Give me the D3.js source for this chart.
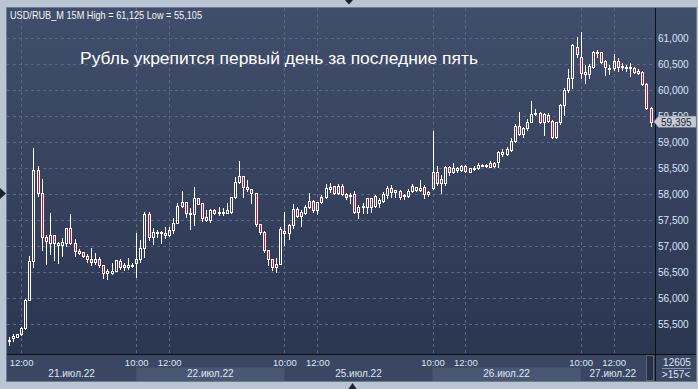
<!DOCTYPE html>
<html>
<head>
<meta charset="utf-8">
<script src="https://cdn.jsdelivr.net/npm/d3@7/dist/d3.min.js"></script>
<style>
html,body{margin:0;padding:0;background:#bac5d4;}
svg{display:block;}
text{font-family:"Liberation Sans",Arial,sans-serif;}
</style>
</head>
<body>
<svg id="chart" width="698" height="389"></svg>
<script>
// ---- data (USD/RUB_M, 15-minute candles) ----
const open = [55180,55230,55260,55305,55430,55965,56710,58465,58020,57175,
57070,57210,57030,57030,57055,57350,57055,56880,56885,56810,
56750,56700,56750,56645,56490,56495,56530,56725,56600,56610,
56640,56685,56750,56960,57620,57175,57250,57275,57250,57210,
57305,57455,57775,57845,57620,57620,57925,57835,57505,57510,
57700,57635,57650,57645,57665,57950,58235,58350,58135,58095,
58020,57430,57280,56930,56760,56595,56660,57295,57250,57410,
57710,57590,57645,57750,57875,57700,57845,57940,58110,58160,
58020,58160,58000,57965,58000,57665,57750,57760,57925,57775,
57830,57870,57985,58115,58050,58070,57965,57975,58065,58135,
58075,58135,58005,58115,58425,58210,58210,58530,58425,58475,
58470,58545,58435,58495,58510,58560,58540,58530,58605,58620,
58805,58770,58860,59030,59315,59155,59270,59395,59545,59560,
59385,59525,59410,59105,59385,59715,60005,60230,60840,60635,
60345,60305,60455,60720,60730,60560,60405,60425,60570,60440,
60440,60425,60425,60325,60360,60115,59655];
const high = [55260,55305,55310,55455,55985,56815,58890,58545,58290,57215,
57640,57215,57090,57160,57355,57620,57140,56955,56890,56850,
56965,56865,56800,56650,56570,56675,56745,56750,56675,56770,
56675,57250,57120,57665,57665,57345,57315,57285,57365,57365,
57540,57830,58070,57855,57730,58135,57930,57840,57700,57710,
57710,57760,57730,57840,57955,58340,58640,58355,58275,58100,
58030,57435,57285,56935,56765,56770,57365,57665,57430,57815,
57750,57700,57795,58030,57890,57855,57985,58190,58210,58165,
58190,58190,58030,58020,58055,57795,57840,57925,57930,57990,
57925,58050,58165,58180,58085,58085,58005,58100,58200,58145,
58275,58180,58065,59215,58550,58370,58535,58550,58595,58530,
58565,58565,58510,58540,58595,58575,58575,58640,58625,58830,
58870,58905,59075,59350,59590,59290,59440,59795,59635,59580,
59560,59560,59430,59395,59740,60040,60410,60890,61030,61125,
60485,60500,60755,60770,60745,60580,60485,60700,60615,60530,
60485,60520,60455,60405,60375,60135,59670];
const low = [55105,55185,55255,55295,55415,55960,56605,57965,56930,56660,
56850,56735,56685,56815,57005,57045,56815,56850,56800,56700,
56635,56660,56605,56385,56375,56465,56525,56555,56545,56555,
56595,56415,56705,56800,57120,57045,57175,57055,57155,57195,
57250,57440,57760,57570,57330,57410,57805,57490,57490,57475,
57630,57600,57600,57640,57640,57925,58210,57955,58070,57825,
57390,57235,56895,56640,56545,56500,56655,57025,57135,57345,
57555,57390,57620,57730,57665,57620,57825,57925,58050,58015,
58015,57980,57905,57825,57645,57540,57635,57635,57665,57765,
57765,57855,57925,57955,57955,57910,57910,57955,58040,58065,
58065,57925,57975,58095,58180,58020,58180,58370,58405,58420,
58450,58425,58420,58470,58485,58535,58530,58525,58530,58530,
58745,58750,58830,59010,59140,59105,59235,59385,59525,59365,
59140,59395,59090,59075,59345,59525,59975,60050,60645,60230,
60135,60240,60435,60645,60520,60295,60305,60390,60375,60390,
60375,60275,60325,60315,60100,59635,59310];
const close = [55200,55275,55305,55430,55965,56710,58465,58020,57175,57095,
57210,57055,57070,57080,57350,57055,56905,56915,56805,56750,
56705,56750,56645,56490,56530,56530,56735,56605,56640,56640,
56625,56750,56960,57620,57185,57270,57280,57265,57210,57315,
57455,57775,57845,57635,57645,57925,57815,57550,57555,57700,
57635,57660,57665,57700,57950,58240,58350,58135,58095,58030,
57430,57280,56930,56760,56595,56660,57330,57250,57410,57710,
57590,57655,57750,57875,57700,57850,57940,58115,58145,58020,
58160,58000,57940,57985,57665,57750,57775,57925,57760,57975,
57890,58000,58115,58040,58080,57955,57985,58070,58160,58075,
58115,58010,58040,58435,58210,58295,58530,58425,58510,58500,
58545,58450,58500,58510,58565,58550,58565,58595,58545,58805,
58770,58865,59030,59315,59155,59270,59395,59545,59565,59385,
59540,59415,59105,59385,59715,60005,60230,60870,60690,60325,
60305,60475,60740,60740,60550,60440,60435,60565,60440,60475,
60445,60455,60360,60375,60120,59655,59395];

const priceTicks = [55500,56000,56500,57000,57500,58000,58500,59000,59500,60000,60500,61000];
const timeLabels = ["12:00","10:00","12:00","10:00","12:00","10:00","12:00","10:00","12:00"];
const timeIndex  = [3,31,39,67,75,103,111,139,147];
const dayLabels  = ["21.июл.22","22.июл.22","25.июл.22","26.июл.22","27.июл.22"];
const dayStart   = [0,31,67,103,139];
const headerText = "USD/RUB_M 15M High = 61,125 Low = 55,105";
const titleText  = "Рубль укрепится первый день за последние пять";
const barsTotal  = "12605";
const barsShown  = ">157<";

// ---- layout ----
const svg = d3.select("#chart");
const P = {l:7, r:656, t:8, b:354, right:696, bottom:381};

const x = d3.scaleLinear().domain([0, open.length-1]).range([8.7, 650.6]);
const y = d3.scaleLinear().domain([55500, 61000]).range([324.3, 38.3]);
const fmt = d3.format(",");
const lastPrice = close[close.length-1];
const lastY = y(lastPrice);

const defs = svg.append("defs");
const g1 = defs.append("linearGradient").attr("id","bg").attr("x1",0).attr("y1",0).attr("x2",0).attr("y2",1);
g1.append("stop").attr("offset","0%").attr("stop-color","#414e6b");
g1.append("stop").attr("offset","100%").attr("stop-color","#2b3651");
// clip so that a tick label hidden behind the last-price tag only shows above it
defs.append("clipPath").attr("id","aboveTag").append("rect")
  .attr("x",P.r).attr("y",0).attr("width",50).attr("height",lastY-5.5);

// outer
svg.append("rect").attr("width",698).attr("height",389).attr("fill","#bac5d4");
// panel
svg.append("rect").attr("x",P.l).attr("y",P.t).attr("width",P.right-P.l).attr("height",P.b-P.t).attr("fill","url(#bg)");
// bottom axis band
svg.append("rect").attr("x",P.l).attr("y",P.b).attr("width",P.right-P.l).attr("height",P.bottom-P.b).attr("fill","#3b4762");

// day bands
const bandEnd = dayStart.slice(1).map(i => x(i)).concat([645]);
dayLabels.forEach((d,i) => {
  const x0 = i === 0 ? P.l : x(dayStart[i]);
  const x1 = bandEnd[i];
  if (i % 2 === 1) {
    svg.append("rect").attr("x",x0).attr("y",367.5).attr("width",x1-x0).attr("height",P.bottom-367.5).attr("fill","#4a5773");
  }
  svg.append("text").attr("x",(x0+x1)/2).attr("y",377).attr("text-anchor","middle")
    .attr("font-size","10px").attr("fill","#dde6f4").text(d);
});

// grid
const grid = svg.append("g").attr("stroke","#5a6886").attr("stroke-width",1).attr("stroke-dasharray","3,3");
priceTicks.forEach(v => {
  const yy = Math.round(y(v)) + 0.5;
  grid.append("line").attr("x1",P.l).attr("x2",P.r).attr("y1",yy).attr("y2",yy);
});
timeIndex.forEach(i => {
  const xx = Math.round(x(i)) + 0.5;
  grid.append("line").attr("x1",xx).attr("x2",xx).attr("y1",P.t).attr("y2",P.b);
});

// time labels
timeIndex.forEach((idx,k) => {
  svg.append("text").attr("x",x(idx)+0.5).attr("y",365.5).attr("text-anchor","middle")
    .attr("font-size","9.5px").attr("fill","#dde6f4").text(timeLabels[k]);
});

// candles
const cg = svg.append("g");
open.forEach((o,i) => {
  const c = close[i], h = high[i], l = low[i];
  const cx = Math.round(x(i));
  let top = Math.round(y(Math.max(o,c)));
  let bot = Math.round(y(Math.min(o,c)));
  if (bot - top < 1) bot = top + 1;
  const yh = Math.round(y(h)), yl = Math.round(y(l));
  if (yh < top) cg.append("line").attr("x1",cx+0.5).attr("x2",cx+0.5).attr("y1",yh).attr("y2",top).attr("stroke","#fff");
  if (yl > bot) cg.append("line").attr("x1",cx+0.5).attr("x2",cx+0.5).attr("y1",bot+1).attr("y2",yl+1).attr("stroke","#fff");
  cg.append("rect").attr("x",cx-0.5).attr("y",top+0.5).attr("width",2).attr("height",bot-top)
    .attr("fill", c < o ? "#e8082f" : "none").attr("stroke","#fff").attr("stroke-width",1);
});

// separators
svg.append("line").attr("x1",P.r-0.5).attr("x2",P.r-0.5).attr("y1",P.t).attr("y2",P.bottom).attr("stroke","#0c0f16");
svg.append("line").attr("x1",P.l).attr("x2",P.right).attr("y1",P.b+0.5).attr("y2",P.b+0.5).attr("stroke","#0c0f16");

// small scroll box
svg.append("rect").attr("x",646.5).attr("y",355.5).attr("width",7).attr("height",25).attr("fill","#27314a").attr("stroke","#56637e");

// price axis labels
priceTicks.forEach(v => {
  const ty = y(v);
  const t = svg.append("text").attr("x",658).attr("y",ty+3.8).attr("font-size","10px")
    .attr("fill","#dbe5f6").text(fmt(v));
  if (Math.abs(ty - lastY) < 11) t.attr("clip-path","url(#aboveTag)");
});

// last price tag
svg.append("polygon")
  .attr("points",[[654,lastY],[658.5,lastY-5.5],[696,lastY-5.5],[696,lastY+5.5],[658.5,lastY+5.5]].map(p=>p.join(",")).join(" "))
  .attr("fill","#c7cbd3").attr("stroke","#9aa0ab").attr("stroke-width",0.5);
svg.append("text").attr("x",661).attr("y",lastY+3.8).attr("font-size","10px").attr("fill","#1c2232")
  .text(fmt(lastPrice));

// bottom right corner box
svg.append("text").attr("x",677).attr("y",365.5).attr("text-anchor","middle").attr("font-size","10px").attr("fill","#dbe5f6").text(barsTotal);
svg.append("line").attr("x1",662).attr("x2",691).attr("y1",368.5).attr("y2",368.5).attr("stroke","#8391ae");
svg.append("text").attr("x",676).attr("y",377.5).attr("text-anchor","middle").attr("font-size","10px").attr("fill","#dbe5f6").text(barsShown);

// header & title
svg.append("text").attr("x",10).attr("y",18.5).attr("font-size","10.5px").attr("fill","#f4f6fa")
  .attr("textLength",192).attr("lengthAdjust","spacingAndGlyphs").text(headerText);
svg.append("text").attr("x",80).attr("y",64).attr("font-size","17px").attr("fill","#ffffff")
  .attr("textLength",398).attr("lengthAdjust","spacingAndGlyphs").text(titleText);

// panel border
svg.append("rect").attr("x",P.l-0.5).attr("y",P.t-0.5).attr("width",P.right-P.l+1).attr("height",P.bottom-P.t+1)
  .attr("fill","none").attr("stroke","#6e7b93");

// scroll markers
svg.append("polygon").attr("points","345,0 353,0 349,4.5").attr("fill","#1b2230");
svg.append("polygon").attr("points","348.5,389 356.5,389 352.5,383").attr("fill","#1b2230");
svg.append("polygon").attr("points","0,188 0,199 6,193.5").attr("fill","#1b2230");
</script>
</body>
</html>
